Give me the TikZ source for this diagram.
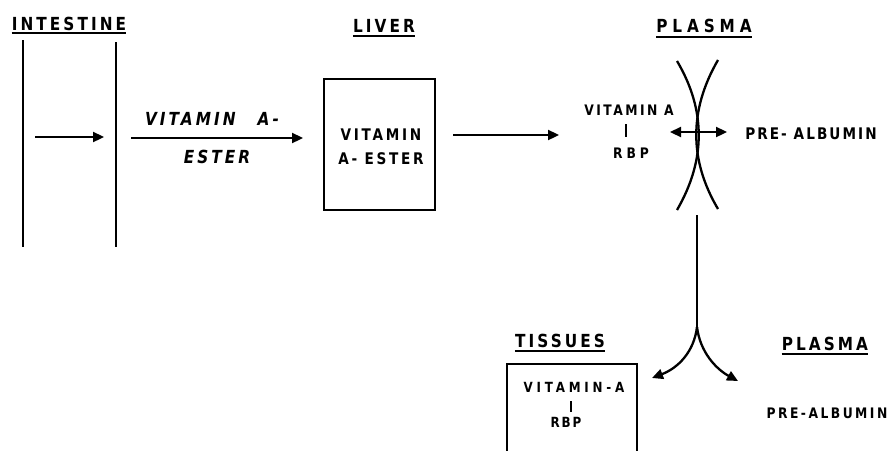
\documentclass[tikz,border=0pt]{standalone}
\usepackage{fontspec}
\setmainfont{DejaVu Sans}
\newfontfamily\fA[FakeStretch=0.85,LetterSpace=17]{DejaVu Sans}
\newfontfamily\fB[FakeStretch=0.85,LetterSpace=27]{DejaVu Sans}
\newfontfamily\fC[FakeStretch=0.85,LetterSpace=13]{DejaVu Sans}
\usetikzlibrary{arrows.meta}
\tikzset{
  ln/.style={line width=2.3pt},
  tip/.tip={Triangle[length=11pt,width=10pt]},
  arr/.style={ln,-tip},
  darr/.style={ln,tip-tip},
  head/.style={inner sep=0pt,anchor=base,font=\fA\bfseries\fontsize{18}{18}\selectfont},
  txt/.style={inner sep=0pt,anchor=base,font=\fA\bfseries\fontsize{16}{16}\selectfont},
  stxt/.style={inner sep=0pt,anchor=base,font=\fA\bfseries\fontsize{14.5}{14.5}\selectfont},
  itxt/.style={inner sep=0pt,anchor=base,font=\fA\bfseries\itshape\fontsize{18}{18}\selectfont},
  uline/.style={line width=1.6pt},
}
\begin{document}
\begin{tikzpicture}[x=1pt,y=-1pt]
\useasboundingbox (0,0) rectangle (889,450);
% INTESTINE
\node[head] (hint) at (69,30) {INTESTINE};
\draw[uline] ([yshift=-3pt]hint.base west) -- ([yshift=-3pt]hint.base east);
\coordinate (w1t) at (23,40); \coordinate (w1b) at (23,247);
\coordinate (w2t) at (116,42); \coordinate (w2b) at (116,247);
\draw[ln] (w1t) -- (w1b);
\draw[ln] (w2t) -- (w2b);
\coordinate (a1s) at (35,137); \coordinate (a1e) at (104,137);
\draw[arr] (a1s) -- (a1e);
% transfer arrow
\coordinate (a2s) at (131,138); \coordinate (a2e) at (303,138);
\draw[arr] (a2s) -- (a2e);
\node[itxt] (ve1) at (212,125) {VITAMIN\hspace{22pt}A-};
\node[itxt] (ve2) at (217,163) {ESTER};
% LIVER
\node[head] (hliv) at (384,32) {LIVER};
\draw[uline] ([yshift=-4pt]hliv.base west) -- ([yshift=-4pt]hliv.base east);
\node[draw,ln,minimum width=111pt,minimum height=131pt,inner sep=0pt] (liver) at (379.5,144.5) {};
\node[txt] (lv1) at (381,140) {VITAMIN};
\node[txt] (lv2) at (381,164) {A- ESTER};
\coordinate (a3s) at (453,135); \coordinate (a3e) at (559,135);
\draw[arr] (a3s) -- (a3e);
% PLASMA
\node[head,font=\fB\bfseries\fontsize{18}{18}\selectfont] (hpl) at (704,32) {PLASMA};
\draw[uline] ([yshift=-5pt]hpl.base west) -- ([yshift=-5pt]hpl.base east);
\coordinate (c1t) at (677,61); \coordinate (c1b) at (677,210);
\coordinate (c2t) at (718,60); \coordinate (c2b) at (718,209);
\draw[ln] (c1t) .. controls (706,110) and (706,160) .. (c1b);
\draw[ln] (c2t) .. controls (689,110) and (689,160) .. (c2b);
\node[stxt] (pva) at (629,115) {VITAMIN A};
\coordinate (pb1) at (626,124); \coordinate (pb2) at (626,137);
\draw[ln] (pb1) -- (pb2);
\node[stxt,font=\fB\bfseries\fontsize{14.5}{14.5}\selectfont] (prbp) at (631,158) {RBP};
\coordinate (da1) at (670,132); \coordinate (da2) at (727,132);
\draw[darr] (da1) -- (da2);
\node[txt,font=\fC\bfseries\fontsize{16}{16}\selectfont] (ppa) at (811,139) {PRE- ALBUMIN};
% down split
\coordinate (vt) at (697,215); \coordinate (vm) at (697,327);
\coordinate (tl) at (652,378); \coordinate (tr) at (738,381);
\draw[ln] (vt) -- (vm);
\draw[arr] (vm) .. controls (694,352) and (678,368) .. (tl);
\draw[arr] (vm) .. controls (700,352) and (716,369) .. (tr);
% TISSUES
\node[head] (htis) at (560,347) {TISSUES};
\draw[uline] ([yshift=-4pt]htis.base west) -- ([yshift=-4pt]htis.base east);
\coordinate (tb1) at (507,452); \coordinate (tb2) at (507,364);
\coordinate (tb3) at (637,364); \coordinate (tb4) at (637,452);
\draw[ln] (tb1) -- (tb2) -- (tb3) -- (tb4);
\node[stxt,font=\fB\bfseries\fontsize{14}{14}\selectfont] (tva) at (574,392) {VITAMIN-A};
\coordinate (tbar1) at (571,401); \coordinate (tbar2) at (571,412);
\draw[ln] (tbar1) -- (tbar2);
\node[stxt,font=\fC\bfseries\fontsize{14}{14}\selectfont] (trbp) at (566,427) {RBP};
% lower PLASMA
\node[head] (hpl2) at (825,350) {PLASMA};
\draw[uline] ([yshift=-4pt]hpl2.base west) -- ([yshift=-4pt]hpl2.base east);
\node[stxt] (ppa2) at (827,418) {PRE-ALBUMIN};
\end{tikzpicture}
\end{document}
